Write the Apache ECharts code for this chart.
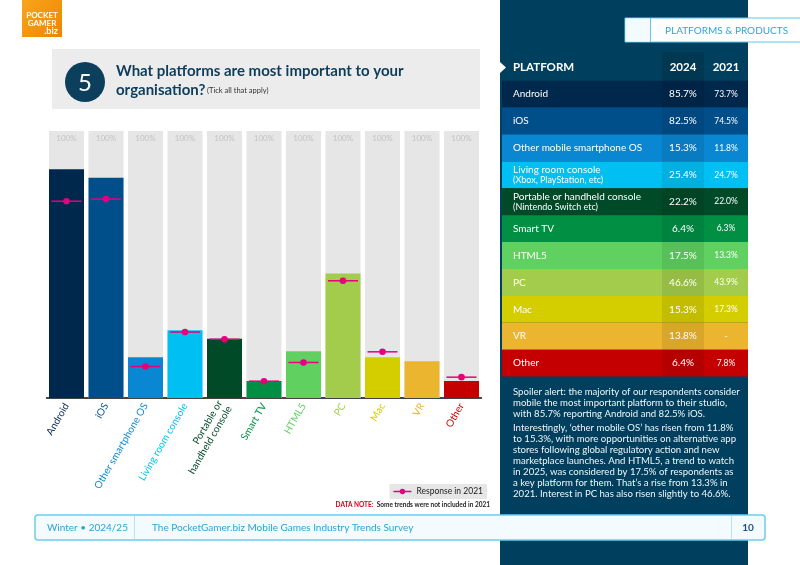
<!DOCTYPE html>
<html>
<head>
<meta charset="utf-8">
<script src="https://cdn.jsdelivr.net/npm/echarts@6/dist/echarts.min.js"></script>
<style>
  html, body { margin: 0; padding: 0; background: #fff; }
  #chart { width: 800px; height: 565px; }
</style>
</head>
<body>
<div id="chart"></div>
<script>
// chart categories (axis) and table names
var categories = ['Android', 'iOS', 'Other smartphone OS', 'Living room console', 'Portable or\nhandheld console',
  'Smart TV', 'HTML5', 'PC', 'Mac', 'VR', 'Other'];
var tableNames = ['Android', 'iOS', 'Other mobile smartphone OS', 'Living room console', 'Portable or handheld console',
  'Smart TV', 'HTML5', 'PC', 'Mac', 'VR', 'Other'];
var tableSubNames = ['', '', '', '(Xbox, PlayStation, etc)', '(Nintendo Switch etc)', '', '', '', '', '', ''];
var values2024 = [85.7, 82.5, 15.3, 25.4, 22.2, 6.4, 17.5, 46.6, 15.3, 13.8, 6.4];
var values2021 = [73.7, 74.5, 11.8, 24.7, 22.0, 6.3, 13.3, 43.9, 17.3, null, 7.8];
var fullScale = [100, 100, 100, 100, 100, 100, 100, 100, 100, 100, 100];

var colors = ['#00284c', '#004f8a', '#0a87d2', '#00bff3', '#004a27', '#018f44',
  '#60d160', '#a3cc4c', '#d4ce00', '#ebb52f', '#c40000'];
var pink = '#e6007e';
var panel = '#00405e';
var FONT = 'Lato, "Open Sans", sans-serif';

var els = [];
function txt(x, y, s, font, fill, align) {
  els.push({ type: 'text', x: x, y: y, style: { text: s, font: font, fill: fill, align: align || 'left', verticalAlign: 'middle' } });
}

// logo
els.push({ type: 'rect', shape: { x: 22, y: 0, width: 40, height: 37 },
  style: { fill: new echarts.graphic.LinearGradient(0, 0, 1, 1, [{ offset: 0, color: '#f9a51d' }, { offset: 1, color: '#ef8400' }]) } });
txt(42, 15, 'POCKET', 'bold 8px ' + FONT, '#fff', 'center');
txt(42, 23.5, 'GAMER', 'bold 8px ' + FONT, '#fff', 'center');
txt(51, 31.5, '.biz', 'bold 9px ' + FONT, '#fff', 'center');

// question box
els.push({ type: 'rect', shape: { x: 52, y: 49, width: 428, height: 60 }, style: { fill: '#ececec' } });
els.push({ type: 'circle', shape: { cx: 85, cy: 82, r: 20 }, style: { fill: '#0b3f5c' } });
txt(85, 83, '5', '24px ' + FONT, '#fff', 'center');
txt(116, 71, 'What platforms are most important to your', 'bold 15px ' + FONT, '#0d3d5a');
txt(116, 90, 'organisation?', 'bold 15px ' + FONT, '#0d3d5a');
txt(207, 91, '(Tick all that apply)', '7.5px ' + FONT, '#333');

// right panel
els.push({ type: 'rect', shape: { x: 500, y: 0, width: 248, height: 565 }, style: { fill: panel } });
els.push({ type: 'polygon', shape: { points: [[500, 62], [506, 67.5], [500, 73]] }, style: { fill: '#fff' } });
els.push({ type: 'rect', shape: { x: 625, y: 18, width: 180, height: 24 }, style: { fill: '#fff', stroke: '#5bc8ec', lineWidth: 1 } });
els.push({ type: 'rect', shape: { x: 625.5, y: 18.5, width: 25, height: 23 }, style: { fill: '#f4fbfe' } });
els.push({ type: 'line', shape: { x1: 650.5, y1: 18, x2: 650.5, y2: 42 }, style: { stroke: '#5bc8ec', lineWidth: 1 } });
txt(665, 30.5, 'PLATFORMS & PRODUCTS', '10px ' + FONT, '#2aa6dc');

// table
els.push({ type: 'rect', shape: { x: 662, y: 52, width: 42, height: 29 }, style: { fill: 'rgba(0,0,0,0.12)' } });
txt(513, 67, 'PLATFORM', 'bold 11.5px ' + FONT, '#fff');
txt(683, 67, '2024', 'bold 11.5px ' + FONT, '#fff', 'center');
txt(726, 67, '2021', 'bold 11.5px ' + FONT, '#fff', 'center');
var tblTop = 80.7, rowH = 26.9;
tableNames.forEach(function (name, i) {
  var y = tblTop + i * rowH;
  els.push({ type: 'rect', shape: { x: 502, y: y, width: 246, height: rowH }, style: { fill: colors[i] } });
  els.push({ type: 'rect', shape: { x: 662, y: y, width: 42, height: rowH }, style: { fill: 'rgba(0,0,0,0.08)' } });
  if (tableSubNames[i]) {
    txt(513, y + 8.5, name, '10px ' + FONT, '#fff');
    txt(513, y + 19, tableSubNames[i], '9px ' + FONT, '#fff');
  } else {
    txt(513, y + rowH / 2, name, '10px ' + FONT, '#fff');
  }
  txt(683, y + rowH / 2, values2024[i].toFixed(1) + '%', '10px ' + FONT, '#fff', 'center');
  txt(726, y + rowH / 2, values2021[i] == null ? '-' : values2021[i].toFixed(1) + '%', '8.5px ' + FONT, '#fff', 'center');
});

// commentary
txt(513, 403, 'Spoiler alert: the majority of our respondents consider\nmobile the most important platform to their studio,\nwith 85.7% reporting Android and 82.5% iOS.',
  '9.6px ' + FONT, '#eef4f7');
els[els.length - 1].style.lineHeight = 11.3;
txt(513, 461, 'Interestingly, \u2018other mobile OS\u2019 has risen from 11.8%\nto 15.3%, with more opportunities on alternative app\nstores following global regulatory action and new\nmarketplace launches. And HTML5, a trend to watch\nin 2025, was considered by 17.5% of respondents as\na key platform for them. That\u2019s a rise from 13.3% in\n2021. Interest in PC has also risen slightly to 46.6%.',
  '9.6px ' + FONT, '#eef4f7');
els[els.length - 1].style.lineHeight = 11;

// data note
els.push({ type: 'text', x: 490, y: 505, style: { rich: { r: { fill: '#d0021b', font: 'bold 6.5px ' + FONT }, b: { fill: '#222', font: 'bold 6.5px ' + FONT } },
  text: '{r|DATA NOTE:} {b|Some trends were not included in 2021}', align: 'right', verticalAlign: 'middle' } });

// footer
els.push({ type: 'rect', shape: { x: 35, y: 515, width: 730, height: 25, r: 3 }, style: { fill: '#f4fbfe', stroke: '#6ccdee', lineWidth: 1.5 } });
els.push({ type: 'line', shape: { x1: 134.5, y1: 516, x2: 134.5, y2: 539 }, style: { stroke: '#b5e4f5', lineWidth: 1 } });
els.push({ type: 'line', shape: { x1: 731.5, y1: 516, x2: 731.5, y2: 539 }, style: { stroke: '#b5e4f5', lineWidth: 1 } });
txt(47, 528, 'Winter \u2022 2024/25', '10px ' + FONT, '#2aa3d8');
txt(152, 528, 'The PocketGamer.biz Mobile Games Industry Trends Survey', '10px ' + FONT, '#2aa3d8');
txt(748, 528, '10', 'bold 10px ' + FONT, '#1c4e80', 'center');

var chart = echarts.init(document.getElementById('chart'));
chart.setOption({
  animation: false,
  textStyle: { fontFamily: FONT },
  grid: { left: 46.75, right: 318.75, top: 131, bottom: 167 },
  legend: {
    data: [{ name: 'Response in 2021', icon: 'path://M0,4.3h20v1.4h-20z M7,5a3,3 0 1,1 6,0a3,3 0 1,1 -6,0z' }],
    right: 313, top: 484, itemWidth: 18, itemHeight: 7, itemGap: 4,
    backgroundColor: '#e6e6e6', padding: [3, 4],
    textStyle: { fontSize: 8.5, color: '#222' }
  },
  xAxis: {
    type: 'category', data: categories,
    axisTick: { show: false },
    axisLine: { lineStyle: { color: 'rgba(20,20,20,0.8)', width: 2 } },
    axisLabel: { interval: 0, rotate: 60, fontSize: 10, margin: 6, lineHeight: 11,
      color: function (v, i) { return colors[i]; } }
  },
  yAxis: { type: 'value', min: 0, max: 100, show: false, splitLine: { show: false } },
  series: [
    { type: 'bar', data: fullScale, barWidth: 35, barGap: '-100%', silent: true,
      itemStyle: { color: '#e6e6e6' },
      label: { show: true, position: 'insideTop', distance: 3, formatter: '100%', fontSize: 8, color: '#c3c3c3' } },
    { type: 'bar', barWidth: 35, barGap: '-100%',
      data: values2024.map(function (v, i) { return { value: v, itemStyle: { color: colors[i] } }; }) },
    { type: 'custom', name: 'Response in 2021', z: 5,
      itemStyle: { color: pink },
      data: values2021.map(function (v, i) { return [i, v == null ? '-' : v]; }),
      renderItem: function (params, api) {
        var v = api.value(1);
        if (v == null || isNaN(v)) return;
        var p = api.coord([api.value(0), v]);
        return { type: 'group', children: [
          { type: 'line', shape: { x1: p[0] - 15, y1: p[1], x2: p[0] + 15, y2: p[1] }, style: { stroke: pink, lineWidth: 1.5 } },
          { type: 'circle', shape: { cx: p[0], cy: p[1], r: 3.3 }, style: { fill: pink } }
        ] };
      } }
  ],
  graphic: { elements: els }
});
</script>
</body>
</html>
